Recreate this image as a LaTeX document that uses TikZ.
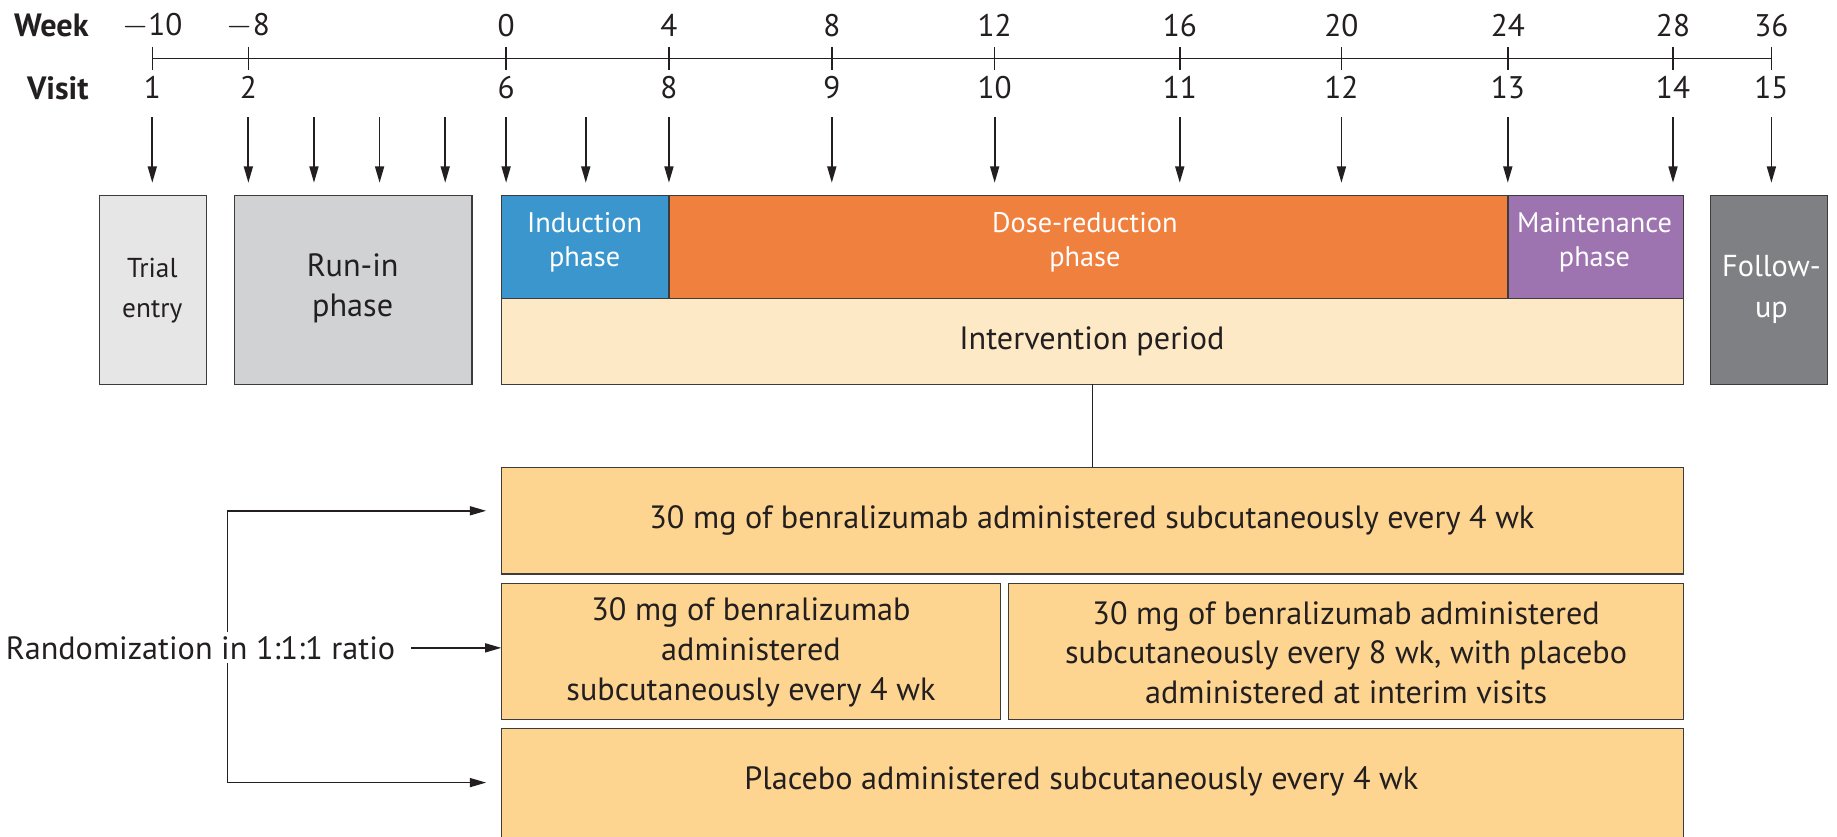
\documentclass[tikz,border=0pt]{standalone}
\usepackage{fontspec}
\setmainfont{PT Sans}
\usetikzlibrary{arrows.meta,fit}
\definecolor{txt}{HTML}{231F20}
\definecolor{bord}{HTML}{3C3C3C}
\definecolor{trialc}{HTML}{E6E6E7}
\definecolor{runc}{HTML}{D1D2D4}
\definecolor{indc}{HTML}{3A96CD}
\definecolor{dosec}{HTML}{F0803E}
\definecolor{maintc}{HTML}{9D74B0}
\definecolor{intc}{HTML}{FDE9C6}
\definecolor{folc}{HTML}{7F8083}
\definecolor{trtc}{HTML}{FDD590}
\begin{document}
\begin{tikzpicture}[x=0.6pt,y=-0.6pt,
  box/.style={draw=bord, line width=0.7pt, inner sep=0pt, outer sep=0pt},
  lab/.style={text=txt, font=\fontsize{16.5}{20.4}\selectfont, inner sep=0pt, align=center},
  wlab/.style={text=white, font=\fontsize{14.5}{17.5}\selectfont, inner sep=0pt, align=center},
  num/.style={text=txt, font=\fontsize{16}{18}\selectfont, inner sep=0pt},
  blab/.style={text=txt, font=\fontsize{16.5}{18}\selectfont\bfseries, inner sep=0pt, anchor=east},
  arr/.style={draw=txt, line width=0.9pt, -{Triangle[length=8.4pt,width=4.6pt]}},
  plain/.style={draw=txt, line width=0.8pt}]
\useasboundingbox (0,0) rectangle (1568,714);

% axis
\node[blab] (wk) at (76,22) {Week};
\node[blab] (vs) at (76,75) {Visit};
\coordinate (ax0) at (130,50);
\coordinate (ax1) at (1512,50);
\draw[plain] (ax0) -- (ax1);
\foreach \x/\w/\v [count=\i] in {130/{$-$10}/1, 212/{$-$8}/2, 432/0/6, 571/4/8, 710/8/9, 849/12/10, 1007/16/11, 1145/20/12, 1287/24/13, 1428/28/14, 1512/36/15}{
  \coordinate (ta\i) at (\x,40);
  \coordinate (tb\i) at (\x,60);
  \draw[plain] (ta\i) -- (tb\i);
  \node[num] (w\i) at (\x,22) {\w};
  \node[num] (v\i) at (\x,75) {\v};
}
% visit arrows
\foreach \x [count=\i] in {130,212,268,324,380,432,500,571,710,849,1007,1145,1287,1428,1512}{
  \coordinate (va\i) at (\x,100);
  \coordinate (vb\i) at (\x,156);
  \draw[arr] (va\i) -- (vb\i);
}

% phase boxes
\node[box, fill=trialc, fit={(85,167) (176,328)}] (trial) {};
\node[box, fill=runc, fit={(200,167) (403,328)}] (run) {};
\node[box, fill=intc, fit={(428,255) (1437,328)}] (interv) {};
\node[box, fill=indc, fit={(428,167) (571,255)}] (ind) {};
\node[box, fill=dosec, fit={(571,167) (1287,255)}] (dose) {};
\node[box, fill=maintc, fit={(1287,167) (1437,255)}] (maint) {};
\node[box, fill=folc, fit={(1460,167) (1560,328)}] (fol) {};

\node[lab, font=\fontsize{14}{20.5}\selectfont] (trialt) at (130,248) {Trial\\entry};
\node[lab, font=\fontsize{16.5}{20.5}\selectfont] (runt) at (301,246) {Run-in\\phase};
\node[lab] (intervt) at (932,291) {Intervention period};
\node[wlab] (indt) at (499,207) {Induction\\phase};
\node[wlab] (doset) at (926,207) {Dose-reduction\\phase};
\node[wlab] (maintt) at (1361,207) {Maintenance\\phase};
\node[wlab, font=\fontsize{15.5}{21}\selectfont] (folt) at (1512,247) {Follow-\\up};

% treatment boxes
\node[box, fill=trtc, fit={(428,399) (1437,490)}] (A) {};
\node[box, fill=trtc, fit={(428,498) (854,614)}] (B1) {};
\node[box, fill=trtc, fit={(861,498) (1437,614)}] (B2) {};
\node[box, fill=trtc, fit={(428,622) (1437,722)}] (C) {};
\node[lab] (At) at (932,444) {30 mg of benralizumab administered subcutaneously every 4 wk};
\node[lab] (B1t) at (641,557) {30 mg of benralizumab\\administered\\subcutaneously every 4 wk};
\node[lab] (B2t) at (1149,557) {30 mg of benralizumab administered\\subcutaneously every 8 wk, with placebo\\administered at interim visits};
\node[lab] (Ct) at (923,667) {Placebo administered subcutaneously every 4 wk};

\draw[plain] (interv.south) -- (A.north);

% randomization
\coordinate (rt) at (194,436);
\coordinate (rb) at (194,668);
\draw[plain] (rt) -- (rb);
\node[lab, anchor=east, fill=white, inner sep=2pt] (rand) at (341,553) {Randomization in 1:1:1 ratio};
\draw[arr, shorten <=6pt] (rand.east) -- (rand.east -| B1.west);
\draw[arr, shorten >=7.8pt] (rt) -- (rt -| A.west);
\draw[arr, shorten >=7.8pt] (rb) -- (rb -| C.west);
\end{tikzpicture}
\end{document}
